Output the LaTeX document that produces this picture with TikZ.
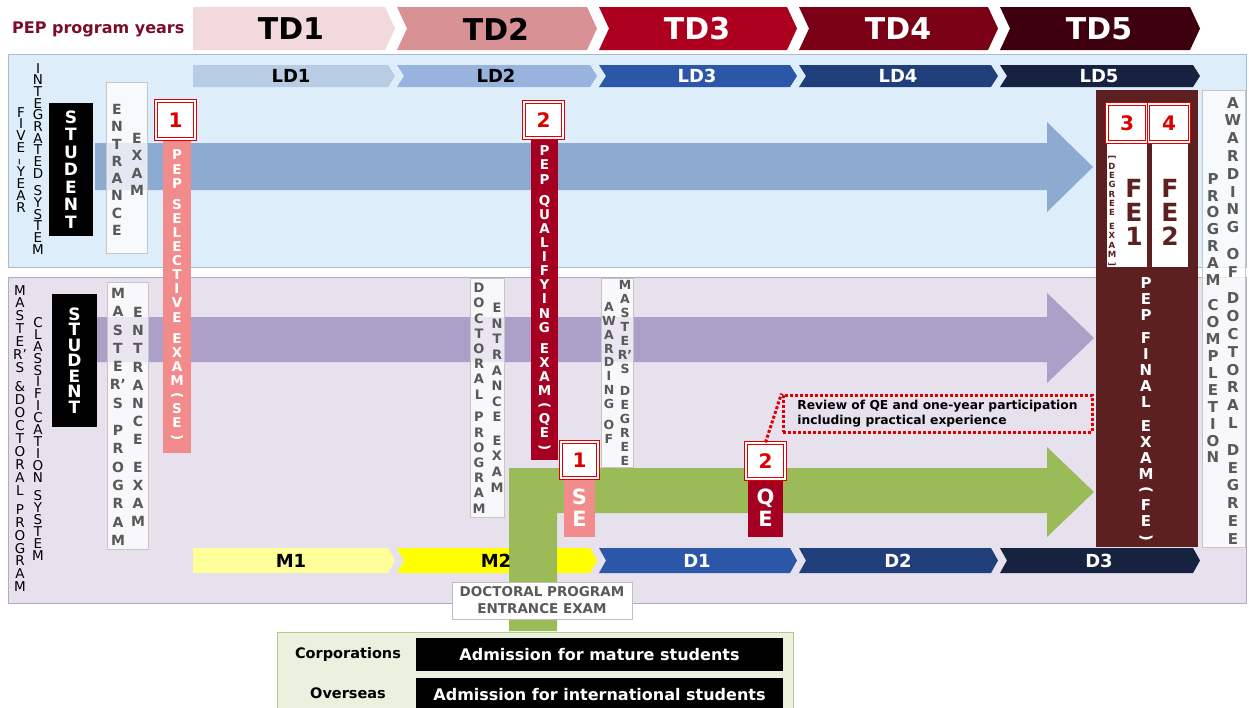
\documentclass[tikz,border=0pt]{standalone}
\usepackage{fontspec}
\setmainfont{DejaVu Sans}
\usepackage{graphicx}
\usepackage{tikz}
\definecolor{pepred}{RGB}{123, 12, 42}
\definecolor{tdone}{RGB}{242, 218, 220}
\definecolor{tdtwo}{RGB}{216, 146, 150}
\definecolor{tdthree}{RGB}{172, 0, 30}
\definecolor{tdfour}{RGB}{122, 0, 22}
\definecolor{tdfive}{RGB}{62, 0, 14}
\definecolor{ldone}{RGB}{184, 204, 228}
\definecolor{ldtwo}{RGB}{152, 180, 222}
\definecolor{ldthree}{RGB}{44, 86, 168}
\definecolor{ldfour}{RGB}{32, 62, 122}
\definecolor{ldfive}{RGB}{22, 34, 64}
\definecolor{mone}{RGB}{255, 255, 153}
\definecolor{mtwo}{RGB}{255, 255, 0}
\definecolor{bandblue}{RGB}{222, 237, 250}
\definecolor{bandblueline}{RGB}{168, 188, 210}
\definecolor{bandpurple}{RGB}{230, 225, 237}
\definecolor{bandpurpleline}{RGB}{180, 168, 200}
\definecolor{arrowblue}{RGB}{141, 170, 208}
\definecolor{arrowpurple}{RGB}{172, 159, 200}
\definecolor{arrowgreen}{RGB}{155, 187, 89}
\definecolor{sepink}{RGB}{242, 140, 140}
\definecolor{qered}{RGB}{165, 0, 33}
\definecolor{febrown}{RGB}{92, 32, 32}
\definecolor{tagred}{RGB}{222, 0, 0}
\definecolor{labgray}{RGB}{89, 89, 89}
\definecolor{panelgreen}{RGB}{235, 241, 222}
\definecolor{panelline}{RGB}{175, 205, 135}

\newcommand\fsz[2]{\fontsize{#1}{#2}\selectfont}
\newcommand\lp{\rotatebox[origin=c]{-90}{(}}
\newcommand\rp{\rotatebox[origin=c]{-90}{)}}
\newcommand\lbk{\rotatebox[origin=c]{-90}{[}}
\newcommand\rbk{\rotatebox[origin=c]{-90}{]}}
\newcommand\vhy{\rotatebox[origin=c]{90}{--}}
\newcommand\vtx[1]{\vtxa#1\vtxend}
\def\vtxend{\vtxend}
\def\vtxa#1{#1\vtxb}
\def\vtxb#1{\ifx#1\vtxend\else\ifx#1~\\[-.5\baselineskip]\else\\#1\fi\expandafter\vtxb\fi}
\newcommand\chevfirst[6]{\fill[#5] (#1,#3) -- (#2-#6,#3) -- (#2,{(#3+#4)/2}) -- (#2-#6,#4) -- (#1,#4) -- cycle;}
\newcommand\chev[6]{\fill[#5] (#1+2,#3) -- (#2-#6,#3) -- (#2,{(#3+#4)/2}) -- (#2-#6,#4) -- (#1+2,#4) -- (#1+2+#6,{(#3+#4)/2}) -- cycle;}

\begin{document}
\begin{tikzpicture}[x=1pt, y=-1pt,
    tdlab/.style={font=\bfseries\fsz{30}{30}},
    ldlab/.style={font=\bfseries\fsz{18}{18}},
    sidelab/.style={align=center, inner sep=0pt, anchor=north, font=\fsz{13.5}{#1}},
    vlab/.style 2 args={align=center, inner sep=0pt, anchor=north, text=labgray, font=\bfseries\fsz{#1}{#2}},
    wlab/.style 2 args={align=center, inner sep=0pt, text=white, font=\bfseries\fsz{#1}{#2}},
    felab/.style 2 args={align=center, inner sep=0pt, text=febrown, font=\bfseries\fsz{#1}{#2}},
    lbox/.style={draw=gray!45, fill=white, fill opacity=.75},
    tag/.style={draw=tagred, line width=1.3pt, double=white, double distance=1.2pt, fill=white, text=tagred,
                font=\bfseries\fsz{20}{20}, minimum width=37pt, minimum height=35pt, inner sep=0pt},
    dots/.style={draw=tagred, line width=3pt, dash pattern=on 3pt off 2pt},
    blackbox/.style={fill=black, text=white, font=\bfseries\fsz{16}{16}, minimum width=367pt, inner sep=0pt},
  ]
\useasboundingbox (0,0) rectangle (1249,707);

\filldraw[bandblueline, fill=bandblue]     (8,54) rectangle (1246,267);
\filldraw[bandpurpleline, fill=bandpurple] (8,277) rectangle (1246,603);

\node[anchor=base west, text=pepred, font=\bfseries\fsz{16}{16}, inner sep=0pt] (years) at (12,33) {PEP program years};

\chevfirst{193}{395}{7}{50}{tdone}{10}
\chev{395}{597}{7}{50}{tdtwo}{10}
\chev{597}{797}{7}{50}{tdthree}{10}
\chev{797}{998}{7}{50}{tdfour}{10}
\chev{998}{1200}{7}{50}{tdfive}{10}
\chevfirst{193}{395}{65}{87}{ldone}{7}
\chev{395}{597}{65}{87}{ldtwo}{7}
\chev{597}{797}{65}{87}{ldthree}{7}
\chev{797}{998}{65}{87}{ldfour}{7}
\chev{998}{1200}{65}{87}{ldfive}{7}
\chevfirst{193}{395}{548}{573}{mone}{7}
\chev{395}{597}{548}{573}{mtwo}{7}
\chev{597}{797}{548}{573}{ldthree}{7}
\chev{797}{998}{548}{573}{ldfour}{7}
\chev{998}{1200}{548}{573}{ldfive}{7}

\fill[arrowblue]   (95,143) -- (1047,143) -- (1047,122) -- (1093,167) -- (1047,212) -- (1047,190) -- (95,190) -- cycle;
\fill[arrowpurple] (97,317) -- (1047,317) -- (1047,293) -- (1094,338) -- (1047,383) -- (1047,362) -- (97,362) -- cycle;
\fill[arrowgreen]  (509,631) -- (509,468) -- (1047,468) -- (1047,447) -- (1094,492) -- (1047,537) -- (1047,513) -- (557,513) -- (557,631) -- cycle;

\node[tdlab] (td1) at (291,29) {TD1};
\node[tdlab] (td2) at (496,29) {TD2};
\node[tdlab, text=white] (td3) at (697,29) {TD3};
\node[tdlab, text=white] (td4) at (898,29) {TD4};
\node[tdlab, text=white] (td5) at (1099,29) {TD5};
\node[ldlab] (ld1) at (291,76) {LD1};
\node[ldlab] (ld2) at (496,76) {LD2};
\node[ldlab, text=white] (ld3) at (697,76) {LD3};
\node[ldlab, text=white] (ld4) at (898,76) {LD4};
\node[ldlab, text=white] (ld5) at (1099,76) {LD5};
\node[ldlab] (m1) at (291,561) {M1};
\node[ldlab] (m2) at (496,561) {M2};
\node[ldlab, text=white] (d1) at (697,561) {D1};
\node[ldlab, text=white] (d2) at (898,561) {D2};
\node[ldlab, text=white] (d3) at (1099,561) {D3};

\node[sidelab=11.9] (fiveyear) at (21,107) {\vtx{FIVE\vhy YEAR}};
\node[sidelab=11.7] (integrated) at (38,63) {\vtx{INTEGRATED~SYSTEM}};
\node[sidelab=12.9] (mastdoc) at (20,285) {\vtx{MASTE{R'}S~\&DOCTORAL~PROGRAM}};
\node[sidelab=11.95] (classif) at (38,317) {\vtx{CLASSIFICATION~SYSTEM}};

\node[fill=black, minimum width=44pt, minimum height=133pt, wlab={17}{17.5}] (student1) at (71,169.5) {\vtx{STUDENT}};
\node[fill=black, minimum width=45pt, minimum height=133pt, wlab={17}{15.5}] (student2) at (74.5,360.5) {\vtx{STUDENT}};

\draw[lbox] (106,82) rectangle (147,253);
\node[vlab={14}{17.3}] (entrance1) at (117,104) {\vtx{ENTRANCE}};
\node[vlab={14}{17.3}] (exam1) at (137,133) {\vtx{EXAM}};
\draw[lbox] (107,282) rectangle (148,549);
\node[vlab={14}{18.3}] (masters) at (118,288) {\vtx{MASTE{R'}S~PROGRAM}};
\node[vlab={14}{18.2}] (entrance2) at (138,307) {\vtx{ENTRANCE~EXAM}};
\draw[lbox] (470,278) rectangle (504,517);
\node[vlab={13}{15.2}] (doctoral) at (479,283) {\vtx{DOCTORAL~PROGRAM}};
\node[vlab={13}{15.6}] (entrance3) at (497,303) {\vtx{ENTRANCE~EXAM}};
\draw[lbox] (601,278) rectangle (633,467);
\node[vlab={12.5}{13.9}] (awardm) at (609,302) {\vtx{AWARDING~OF}};
\node[vlab={12.5}{14.1}] (mdegree) at (625,280) {\vtx{MASTE{R'}S~DEGREE}};
\draw[lbox] (1202,90) rectangle (1245,547);
\node[vlab={15}{17.8}] (awardd) at (1233,97) {\vtx{AWARDING~OF~DOCTORAL~DEGREE}};
\node[vlab={15}{16.9}] (complete) at (1213,173) {\vtx{PROGRAM~COMPLETION}};

\node[fill=sepink, minimum width=28pt, minimum height=314pt, wlab={13.5}{14.1}] (sebar1) at (177,296) {\vtx{PEP~SELECTIVE~EXAM\lp SE\rp}};
\node[tag, minimum width=39pt, minimum height=38pt] (tagse1) at (175.5,120) {1};
\node[fill=qered, minimum width=27pt, minimum height=322pt, wlab={13.5}{14.1}] (qebar1) at (544.5,299) {\vtx{PEP~QUALIFYING~EXAM\lp QE\rp}};
\node[tag, minimum width=39pt, minimum height=36pt] (tagqe1) at (543.5,120) {2};

\node[fill=sepink, minimum width=31pt, minimum height=59pt, wlab={21}{22}] (sebar2) at (579.5,507.5) {\vtx{SE}};
\node[tag, minimum width=37pt, minimum height=36pt] (tagse2) at (579.5,460) {1};
\node[fill=qered, minimum width=35pt, minimum height=58pt, wlab={21}{22}] (qebar2) at (765.5,508) {\vtx{QE}};
\node[tag, minimum width=39pt, minimum height=36pt] (tagqe2) at (765.5,461) {2};

\node[dots, minimum width=309pt, minimum height=37pt, align=left, font=\bfseries\fsz{12.3}{15}, inner sep=0pt] (review) at (937.5,413.5)
  {Review of QE and one-year participation\\including practical experience};
\draw[dots] (tagqe2.north) -- (review.north west);

\fill[febrown] (1096,90) rectangle (1198,547);
\fill[white] (1107,143) rectangle (1147,267);
\fill[white] (1152,143) rectangle (1188,267);
\node[tag, minimum width=40pt, minimum height=38pt] (tagfe1) at (1127,123) {3};
\node[tag, minimum width=41pt, minimum height=38pt] (tagfe2) at (1169,123) {4};
\node[felab={8.5}{9.3}] (degree) at (1112,211) {\vtx{\lbk DEGREE~EXAM\rbk}};
\node[felab={25}{24}] (fe1) at (1134,212) {\vtx{FE1}};
\node[felab={25}{24}] (fe2) at (1170,212) {\vtx{FE2}};
\node[wlab={15}{15.9}] (fefinal) at (1146,410) {\vtx{PEP~FINAL~EXAM\lp FE\rp}};

\node[draw=gray!50, fill=white, text=labgray, align=center, font=\bfseries\fsz{13.5}{17},
      minimum width=180pt, minimum height=37pt, inner sep=0pt] (dpexam) at (542,600.5) {DOCTORAL PROGRAM\\ENTRANCE EXAM};

\filldraw[panelline, fill=panelgreen] (277,632) rectangle (793,712);
\node[font=\bfseries\fsz{14.5}{14.5}] (corp) at (348,654) {Corporations};
\node[font=\bfseries\fsz{14.5}{14.5}] (overseas) at (348,693) {Overseas};
\node[blackbox, minimum height=33pt] (mature) at (599.5,654.5) {Admission for mature students};
\node[blackbox, minimum height=34pt] (intl) at (599.5,695) {Admission for international students};
\end{tikzpicture}
\end{document}
